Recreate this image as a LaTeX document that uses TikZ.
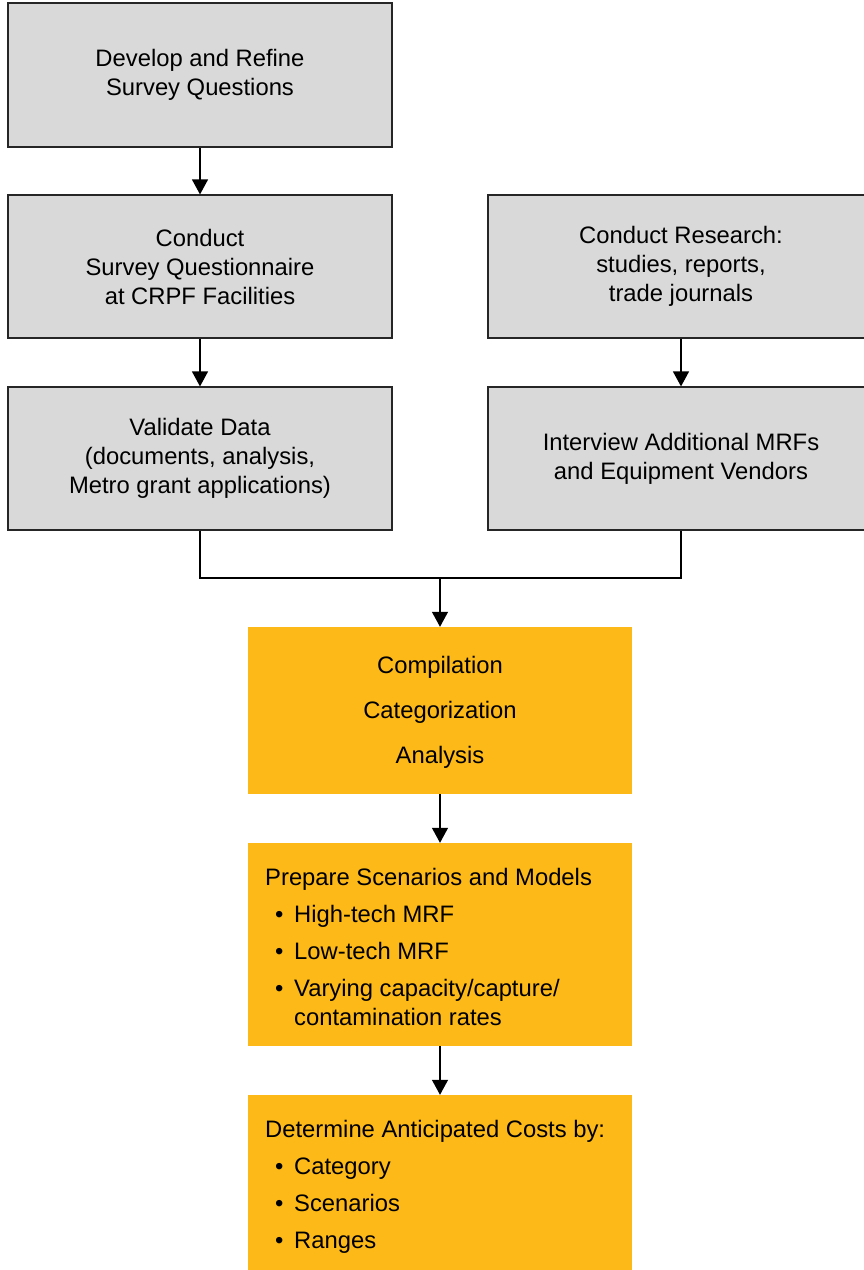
\documentclass[tikz,border=0pt]{standalone}
\usepackage{fontspec}
\setmainfont{Liberation Sans}
\usetikzlibrary{arrows.meta}
\definecolor{boxgray}{HTML}{D9D9D9}
\definecolor{boxorange}{HTML}{FCB918}
\begin{document}
\begin{tikzpicture}[x=1pt,y=-1pt,
  graybox/.style={draw=black!85,line width=1.2pt,fill=boxgray,inner sep=0pt,
    align=center,font=\fontsize{23.8}{29}\selectfont},
  orangebox/.style={fill=boxorange,inner sep=0pt},
  txt/.style={inner sep=0pt,anchor=base west,font=\fontsize{23.8}{28}\selectfont},
  ctxt/.style={inner sep=0pt,anchor=base,font=\fontsize{23.8}{28}\selectfont},
  conn/.style={line width=1.2pt,-{Triangle[width=16pt,length=15pt]}},
  plain/.style={line width=1.2pt}]
\useasboundingbox (0,0) rectangle (863,1270);
% gray boxes
\node[graybox,minimum width=384pt,minimum height=144pt] (b1) at (200,75) {Develop and Refine\\Survey Questions};
\node[graybox,minimum width=384pt,minimum height=143pt] (b2) at (200,266.5) {Conduct\\Survey Questionnaire\\at CRPF Facilities};
\node[graybox,minimum width=386pt,minimum height=143pt] (b3) at (681,266.5) {Conduct Research:\\studies, reports,\\trade journals};
\node[graybox,minimum width=384pt,minimum height=143pt] (b4) at (200,458.5) {Validate Data\\(documents, analysis,\\Metro grant applications)};
\node[graybox,minimum width=386pt,minimum height=143pt] (b5) at (681,458.5) {Interview Additional MRFs\\and Equipment Vendors};
% orange boxes
\node[orangebox,minimum width=384pt,minimum height=167pt] (o1) at (440,710.5) {};
\node[orangebox,minimum width=384pt,minimum height=203pt] (o2) at (440,944.5) {};
\node[orangebox,minimum width=384pt,minimum height=176pt] (o3) at (440,1183) {};
% orange 1 text
\node[ctxt] (o1a) at (440,673) {Compilation};
\node[ctxt] (o1b) at (440,718) {Categorization};
\node[ctxt] (o1c) at (440,763) {Analysis};
% orange 2 text
\node[txt] (o2h) at (265,885) {Prepare Scenarios and Models};
\node[txt] (o2b1) at (275,922) {•};
\node[txt] (o2t1) at (294,922) {High-tech MRF};
\node[txt] (o2b2) at (275,959) {•};
\node[txt] (o2t2) at (294,959) {Low-tech MRF};
\node[txt] (o2b3) at (275,996) {•};
\node[txt] (o2t3) at (294,996) {Varying capacity/capture/};
\node[txt] (o2t4) at (294,1025) {contamination rates};
% orange 3 text
\node[txt] (o3h) at (265,1137) {Determine Anticipated Costs by:};
\node[txt] (o3b1) at (275,1174) {•};
\node[txt] (o3t1) at (294,1174) {Category};
\node[txt] (o3b2) at (275,1211) {•};
\node[txt] (o3t2) at (294,1211) {Scenarios};
\node[txt] (o3b3) at (275,1248) {•};
\node[txt] (o3t3) at (294,1248) {Ranges};
% connectors
\draw[conn] (b1.south) -- (b2.north);
\draw[conn] (b2.south) -- (b4.north);
\draw[conn] (b3.south) -- (b5.north);
\coordinate (j) at (440,578);
\draw[plain] (b4.south) |- (j) -| (b5.south);
\draw[conn] (j) -- (o1.north);
\draw[conn] (o1.south) -- (o2.north);
\draw[conn] (o2.south) -- (o3.north);
\end{tikzpicture}
\end{document}
